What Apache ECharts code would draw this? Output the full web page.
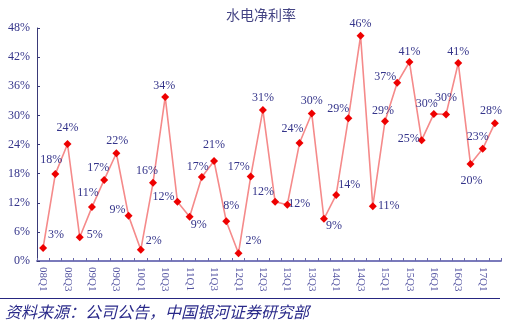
<!DOCTYPE html>
<html>
<head>
<meta charset="utf-8">
<script src="https://cdn.jsdelivr.net/npm/echarts@6/dist/echarts.min.js"></script>
<style>
  html, body { margin: 0; padding: 0; background: #fff; }
  #chart { width: 507px; height: 333px; }
</style>
</head>
<body>
<div id="chart"></div>
<script>
// Quarters 2008Q1 – 2017Q2
const quarters = [
  '08Q1','08Q2','08Q3','08Q4','09Q1','09Q2','09Q3','09Q4',
  '10Q1','10Q2','10Q3','10Q4','11Q1','11Q2','11Q3','11Q4',
  '12Q1','12Q2','12Q3','12Q4','13Q1','13Q2','13Q3','13Q4',
  '14Q1','14Q2','14Q3','14Q4','15Q1','15Q2','15Q3','15Q4',
  '16Q1','16Q2','16Q3','16Q4','17Q1','17Q2'
];

// Hydropower net margin, %
const netMargin = [
  2.7, 17.9, 24.1, 4.9, 11.1, 16.7, 22.2, 9.3,
  2.3, 16.1, 33.8, 12.2, 9.1, 17.3, 20.6, 8.2,
  1.6, 17.4, 31.1, 12.2, 11.6, 24.3, 30.4, 8.7,
  13.6, 29.4, 46.4, 11.3, 28.8, 36.7, 41.0, 24.9,
  30.3, 30.2, 40.8, 20.0, 23.1, 28.4
];

const yTicks = { min: 0, max: 48, step: 6 };

// Where each value label sits relative to its point [dx, dy]
const labelShift = [
  [13,-13],[-4,-14],[0,-16],[15,-2],[-4,-14],[-6,-12],[1,-12],[-11,-6],
  [13,-9],[-6,-12],[-1,-11],[-14,-5],[9,8],[-4,-10],[0,-16],[5,-15],
  [15,-12],[-12,-10],[0,-12],[-12,-10],[12,-1],[-7,-14],[0,-13],[10,7],
  [13,-10],[-10,-9],[0,-12],[16,0],[-2,-10],[-12,-6],[0,-10],[-13,-1],
  [-7,-10],[0,-17],[0,-11],[1,17],[-5,-12],[-4,-12]
];

const navy = '#34348a';
const serif = '"Liberation Serif", "Times New Roman", serif';

const seriesData = netMargin.map((v, i) => ({
  value: v,
  label: { offset: labelShift[i] }
}));

const chart = echarts.init(document.getElementById('chart'), null, { renderer: 'canvas' });

chart.setOption({
  animation: false,
  backgroundColor: '#ffffff',
  title: {
    text: '水电净利率',
    left: 256,
    textAlign: 'center',
    top: 3,
    textStyle: {
      fontFamily: '"Noto Sans CJK SC", sans-serif',
      fontSize: 14,
      fontWeight: 'normal',
      color: '#444484'
    }
  },
  grid: { left: 37, right: 6, top: 28, bottom: 72, containLabel: false },
  xAxis: {
    type: 'category',
    data: quarters,
    boundaryGap: true,
    axisLine: { lineStyle: { color: '#7a7abb', width: 2 } },
    axisTick: { show: true, inside: true, length: 3, interval: 0, lineStyle: { color: '#6a6aaa' } },
    axisLabel: {
      interval: 1,
      rotate: -90,
      margin: 6,
      fontFamily: serif,
      fontSize: 11,
      color: '#5555a2'
    },
    splitLine: { show: false }
  },
  yAxis: {
    type: 'value',
    min: yTicks.min,
    max: yTicks.max,
    interval: yTicks.step,
    axisLine: { show: true, lineStyle: { color: '#3a3a78', width: 1 } },
    axisTick: { show: true, inside: true, length: 3, lineStyle: { color: '#3a3a78' } },
    axisLabel: {
      formatter: '{value}%',
      margin: 7,
      fontFamily: serif,
      fontSize: 12,
      color: navy
    },
    splitLine: { show: false }
  },
  series: [{
    type: 'line',
    data: seriesData,
    symbol: 'diamond',
    symbolSize: 8,
    itemStyle: { color: '#ee0000' },
    lineStyle: { color: '#f58a8a', width: 1.6 },
    label: {
      show: true,
      position: 'inside',
      align: 'center',
      verticalAlign: 'middle',
      formatter: p => Math.round(p.value) + '%',
      fontFamily: serif,
      fontSize: 12,
      color: navy
    }
  }],
  graphic: [
    {
      type: 'line',
      shape: { x1: 0, y1: 298.5, x2: 500, y2: 298.5 },
      style: { stroke: '#262680', lineWidth: 1 }
    },
    {
      type: 'text',
      left: 5,
      top: 304,
      style: {
        text: '资料来源：公司公告，中国银河证券研究部',
        font: 'italic 16px "Noto Sans CJK SC", sans-serif',
        fill: '#2a2a8a'
      }
    }
  ]
});
</script>
</body>
</html>
